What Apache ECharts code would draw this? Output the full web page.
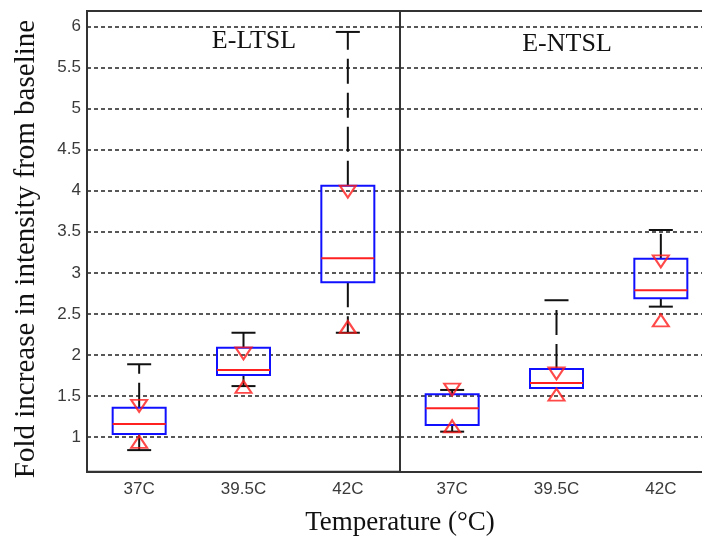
<!DOCTYPE html>
<html>
<head>
<meta charset="utf-8">
<script src="https://cdn.jsdelivr.net/npm/echarts@6/dist/echarts.min.js"></script>
<style>
  html, body { margin: 0; padding: 0; background: #fff; }
  #chart { width: 702px; height: 537px; }
</style>
</head>
<body>
<div id="chart"></div>
<script>
// categories
const categories = ['37C', '39.5C', '42C'];
const yTicks = [1, 1.5, 2, 2.5, 3, 3.5, 4, 4.5, 5, 5.5, 6];

// E-LTSL boxes
const ltslLow = [0.84, 1.62, 2.27];
const ltslQ1 = [1.037, 1.755, 2.885];
const ltslMedian = [1.158, 1.816, 3.178];
const ltslQ3 = [1.357, 2.088, 4.06];
const ltslHigh = [1.886, 2.27, 5.935];
const ltslNotchLow = [0.94, 1.61, 2.34];
const ltslNotchHigh = [1.38, 2.02, 3.99];

// E-NTSL boxes
const ntslLow = [1.065, 1.597, 2.588];
const ntslQ1 = [1.146, 1.597, 2.69];
const ntslMedian = [1.35, 1.658, 2.788];
const ntslQ3 = [1.521, 1.829, 3.17];
const ntslHigh = [1.573, 2.666, 3.522];
const ntslNotchLow = [1.13, 1.515, 2.42];
const ntslNotchHigh = [1.577, 1.776, 3.14];

const myChart = echarts.init(document.getElementById('chart'));

function boxRows(low, q1, med, q3, high) {
  return categories.map((c, i) => [i, low[i], q1[i], med[i], q3[i], high[i]]);
}

// box + whiskers drawn like a matlab boxplot
function renderBox(params, api) {
  const x = api.value(0);
  const pLow = api.coord([x, api.value(1)]);
  const pQ1 = api.coord([x, api.value(2)]);
  const pMed = api.coord([x, api.value(3)]);
  const pQ3 = api.coord([x, api.value(4)]);
  const pHigh = api.coord([x, api.value(5)]);
  const cx = pMed[0];
  const bw = 53, cw = 24;
  const whisker = { stroke: '#111', lineWidth: 2, lineDash: [25, 9] };
  const cap = { stroke: '#111', lineWidth: 2 };
  return {
    type: 'group',
    children: [
      { type: 'line', shape: { x1: cx, y1: pQ3[1], x2: cx, y2: pHigh[1] }, style: whisker },
      { type: 'line', shape: { x1: cx, y1: pQ1[1], x2: cx, y2: pLow[1] }, style: whisker },
      { type: 'line', shape: { x1: cx - cw / 2, y1: pHigh[1], x2: cx + cw / 2, y2: pHigh[1] }, style: cap },
      { type: 'line', shape: { x1: cx - cw / 2, y1: pLow[1], x2: cx + cw / 2, y2: pLow[1] }, style: cap },
      { type: 'rect', shape: { x: cx - bw / 2, y: pQ3[1], width: bw, height: pQ1[1] - pQ3[1] },
        style: { fill: 'none', stroke: '#1010ff', lineWidth: 2 } },
      { type: 'line', shape: { x1: cx - bw / 2, y1: pMed[1], x2: cx + bw / 2, y2: pMed[1] },
        style: { stroke: '#ff2020', lineWidth: 2 } }
    ]
  };
}

function yAxisCfg(gridIndex, showLabels) {
  return {
    type: 'value',
    gridIndex: gridIndex,
    min: 0.577,
    max: 6.19,
    axisLine: { show: true, lineStyle: { color: '#333', width: 2 } },
    axisTick: { show: false, customValues: yTicks },
    axisLabel: {
      show: showLabels,
      customValues: yTicks,
      margin: 6,
      color: '#3a3a3a',
      fontSize: 17,
      fontFamily: 'Liberation Sans, Arial, sans-serif'
    },
    splitLine: { show: true, lineStyle: { color: '#222', width: 1.5, type: [4, 3] } }
  };
}

function xAxisCfg(gridIndex, pos) {
  return {
    type: 'category',
    gridIndex: gridIndex,
    position: pos,
    data: categories,
    axisLine: { show: true, onZero: false, lineStyle: { color: '#333', width: 2 } },
    axisTick: { show: false },
    axisLabel: {
      show: pos === 'bottom',
      margin: 9,
      color: '#3a3a3a',
      fontSize: 17,
      fontFamily: 'Liberation Sans, Arial, sans-serif'
    },
    splitLine: { show: false }
  };
}

function triSeries(name, values, idx, down) {
  return {
    name: name,
    type: 'scatter',
    xAxisIndex: idx,
    yAxisIndex: idx,
    symbol: 'triangle',
    symbolSize: [16, 12],
    symbolRotate: down ? 180 : 0,
    z: 5,
    silent: true,
    itemStyle: { color: 'rgba(0,0,0,0)', borderColor: '#ff1a1a', borderWidth: 2 },
    data: values.map((v, i) => [i, v])
  };
}

const serif = 'Liberation Serif, Times New Roman, serif';

const option = {
  animation: false,
  backgroundColor: '#fff',
  grid: [
    { left: 87, top: 11, width: 313, height: 460.7, outerBoundsMode: 'none',
      show: true, borderColor: '#333', borderWidth: 2 },
    // right panel runs past the picture's right edge
    { left: 400, top: 11, width: 313, height: 460.7, outerBoundsMode: 'none' }
  ],
  xAxis: [xAxisCfg(0, 'bottom'), xAxisCfg(1, 'bottom'), xAxisCfg(1, 'top')],
  yAxis: [yAxisCfg(0, true), yAxisCfg(1, false)],
  graphic: [
    { type: 'text', x: 26, y: 249, rotation: Math.PI / 2,
      style: { text: 'Fold increase in intensity from baseline', font: '29px ' + serif, fill: '#111', align: 'center', verticalAlign: 'middle' } },
    { type: 'text', x: 400, y: 523,
      style: { text: 'Temperature (°C)', font: '27px ' + serif, fill: '#111', align: 'center', verticalAlign: 'middle' } },
    { type: 'text', x: 254, y: 41,
      style: { text: 'E-LTSL', font: '26px ' + serif, fill: '#111', align: 'center', verticalAlign: 'middle' } },
    { type: 'text', x: 567, y: 44,
      style: { text: 'E-NTSL', font: '26px ' + serif, fill: '#111', align: 'center', verticalAlign: 'middle' } }
  ],
  series: [
    {
      name: 'E-LTSL',
      type: 'custom',
      xAxisIndex: 0,
      yAxisIndex: 0,
      renderItem: renderBox,
      encode: { x: 0, y: [1, 2, 3, 4, 5] },
      data: boxRows(ltslLow, ltslQ1, ltslMedian, ltslQ3, ltslHigh)
    },
    {
      name: 'E-NTSL',
      type: 'custom',
      xAxisIndex: 1,
      yAxisIndex: 1,
      renderItem: renderBox,
      encode: { x: 0, y: [1, 2, 3, 4, 5] },
      data: boxRows(ntslLow, ntslQ1, ntslMedian, ntslQ3, ntslHigh)
    },
    triSeries('ltsl notch high', ltslNotchHigh, 0, true),
    triSeries('ltsl notch low', ltslNotchLow, 0, false),
    triSeries('ntsl notch high', ntslNotchHigh, 1, true),
    triSeries('ntsl notch low', ntslNotchLow, 1, false)
  ]
};

myChart.setOption(option);
window.addEventListener('resize', () => {
  myChart.resize();
});
</script>
</body>
</html>
